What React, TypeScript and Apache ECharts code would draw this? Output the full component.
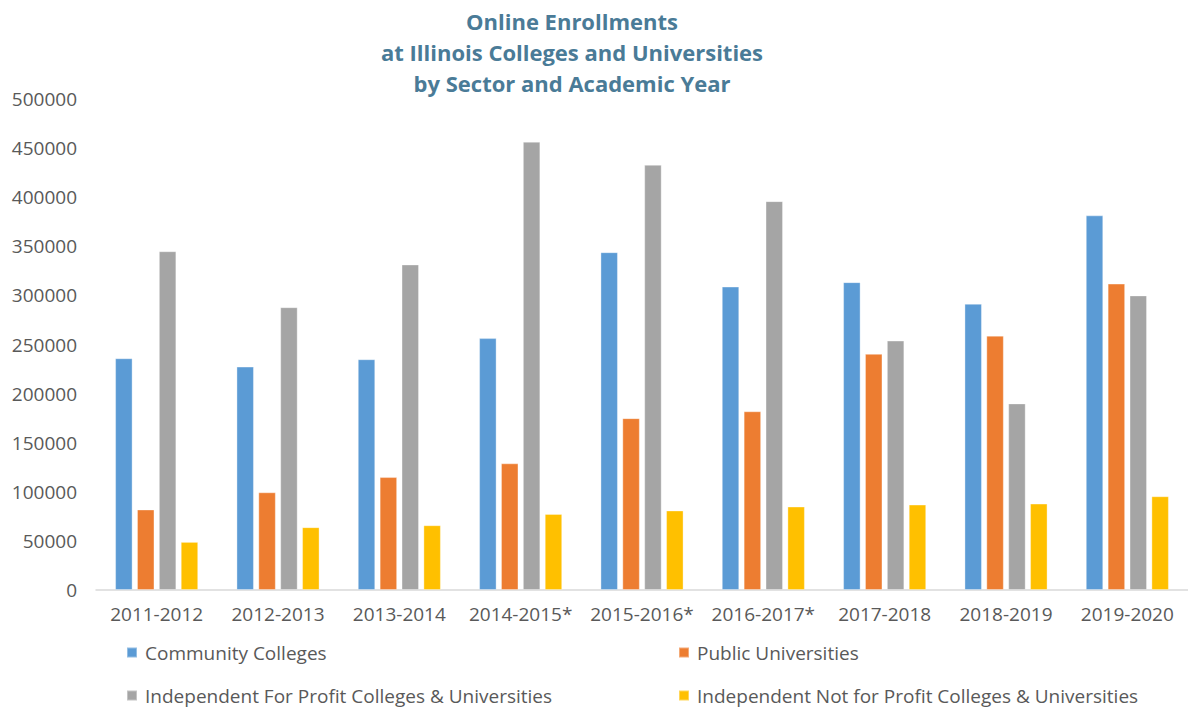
import React, { useEffect, useRef } from "react";
import * as echarts from "echarts";

const categories = ["2011-2012", "2012-2013", "2013-2014", "2014-2015*", "2015-2016*", "2016-2017*", "2017-2018", "2018-2019", "2019-2020"];
const communityColleges = [236000, 227500, 235000, 256500, 344000, 309000, 313500, 291500, 381500];
const publicUniversities = [82000, 99500, 115000, 129000, 175000, 182000, 240500, 259000, 312000];
const forProfit = [345000, 288000, 331500, 456500, 433000, 396000, 254000, 190000, 300000];
const notForProfit = [49000, 64000, 66000, 77500, 81000, 85000, 87000, 88000, 95500];
const seriesNames = [
  "Community Colleges",
  "Public Universities",
  "Independent For Profit Colleges & Universities",
  "Independent Not for Profit Colleges & Universities",
];
const colors = ["#5B9BD5", "#ED7D31", "#A5A5A5", "#FFC000"];
const titleText = "Online Enrollments\nat Illinois Colleges and Universities\nby Sector and Academic Year";

const FONT = "'Open Sans', 'Liberation Sans', sans-serif";
const TEXT_COLOR = "#595959";

export default function App() {
  const ref = useRef<HTMLDivElement>(null);
  useEffect(() => {
    if (!ref.current) return;
    const chart = echarts.init(ref.current, undefined, { renderer: "svg" });
    const values = [communityColleges, publicUniversities, forProfit, notForProfit];
    const legendPos = [
      { left: 126, top: 643 },
      { left: 678, top: 643 },
      { left: 126, top: 686 },
      { left: 678, top: 686 },
    ];
    chart.setOption({
      animation: false,
      backgroundColor: "#ffffff",
      graphic: [
        {
          type: "text",
          x: 572,
          y: 5,
          style: {
            text: titleText,
            x: 0,
            y: 0,
            textAlign: "center",
            textVerticalAlign: "top",
            fontFamily: FONT,
            fontSize: 22,
            fontWeight: "bold",
            lineHeight: 31,
            fill: "#4A7B97",
          },
        },
      ],
      legend: seriesNames.map((n, i) => ({
        data: [n],
        left: legendPos[i].left,
        top: legendPos[i].top,
        icon: "rect",
        itemWidth: 10,
        itemHeight: 10,
        padding: 0,
        textStyle: { fontFamily: FONT, fontSize: 19, color: TEXT_COLOR, padding: [0, 0, 0, 3] },
        selectedMode: false,
      })),
      grid: { left: 96, top: 99, width: 1098, height: 491 },
      xAxis: {
        type: "category",
        data: categories,
        axisLine: { show: true, lineStyle: { color: "#D9D9D9", width: 1.5 } },
        axisTick: { show: false },
        axisLabel: { fontFamily: FONT, fontSize: 19, color: TEXT_COLOR, margin: 14, interval: 0 },
      },
      yAxis: {
        type: "value",
        min: 0,
        max: 500000,
        interval: 50000,
        axisLine: { show: false },
        axisTick: { show: false },
        splitLine: { show: false },
        axisLabel: {
          fontFamily: FONT,
          fontSize: 19,
          color: TEXT_COLOR,
          margin: 19,
          formatter: (v: number) => String(v),
        },
      },
      series: seriesNames.map((n, i) => ({
        name: n,
        type: "bar",
        data: values[i],
        barWidth: 17.5,
        barGap: "25%",
        itemStyle: { color: colors[i], borderColor: "rgba(255,255,255,0.35)", borderWidth: 1 },
      })),
    });
    return () => chart.dispose();
  }, []);
  return <div ref={ref} style={{ position: "absolute", left: 0, top: 0, width: 1188, height: 708 }} />;
}
